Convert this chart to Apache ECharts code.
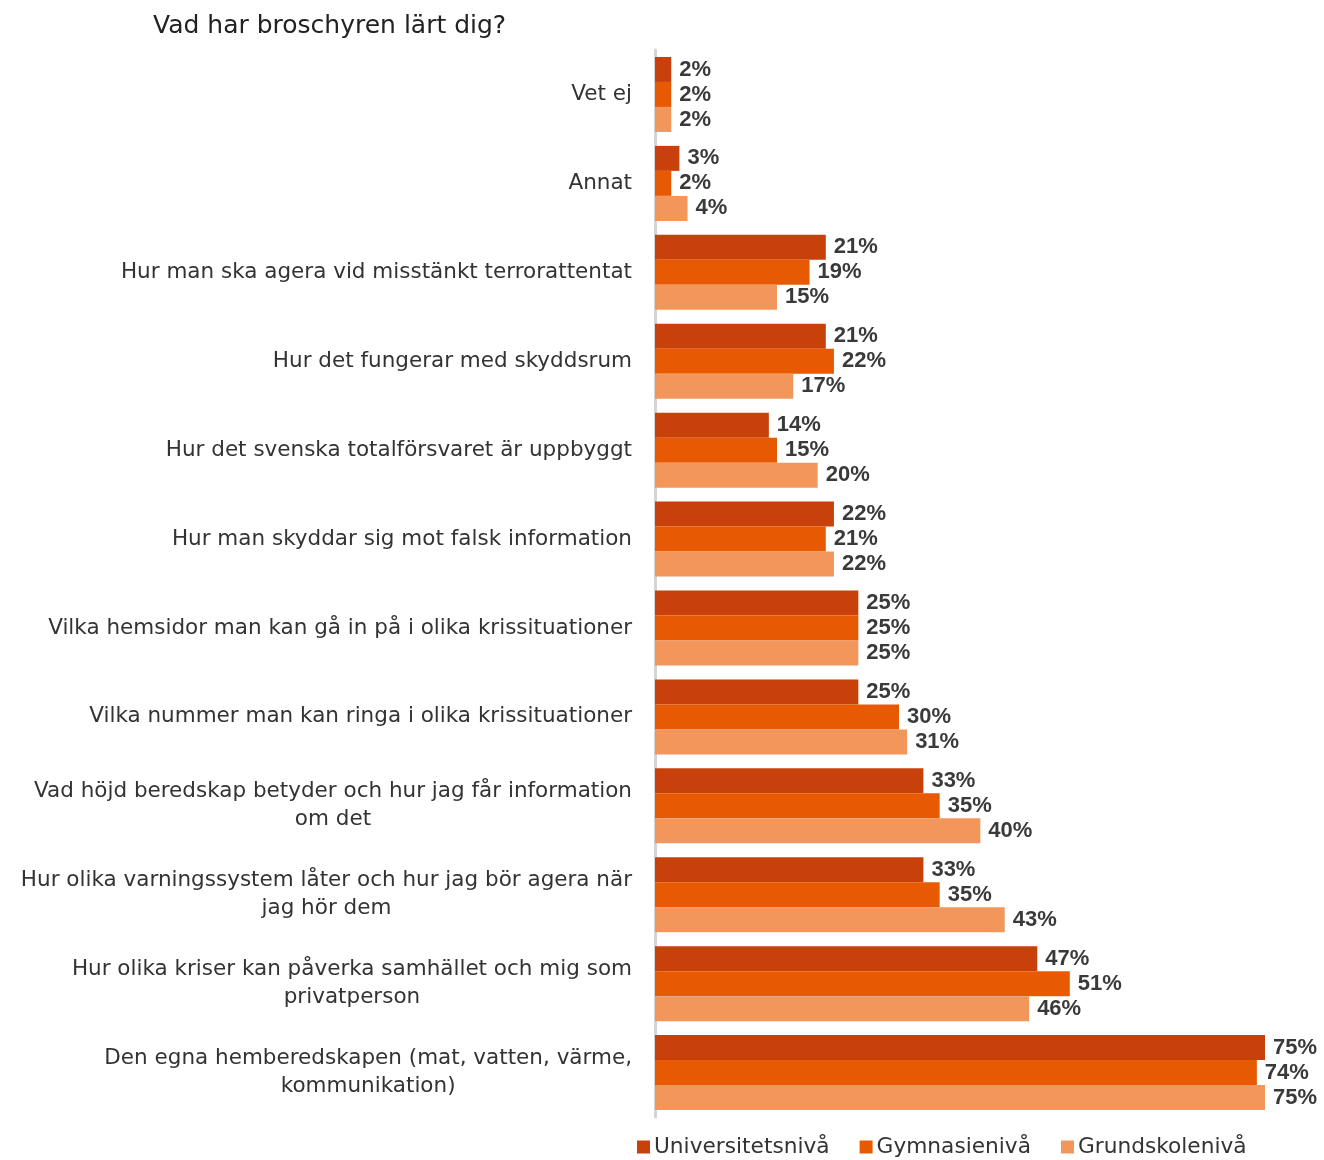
<!DOCTYPE html>
<html><head><meta charset="utf-8">
<script src="https://cdn.jsdelivr.net/npm/echarts@6/dist/echarts.min.js"></script>
<style>html,body{margin:0;padding:0;background:#fff}#c{width:1324px;height:1160px}</style>
</head><body><div id="c"></div>
<script>
const titleText = 'Vad har broschyren lärt dig?';
const categories = [
  'Vet ej',
  'Annat',
  'Hur man ska agera vid misstänkt terrorattentat',
  'Hur det fungerar med skyddsrum',
  'Hur det svenska totalförsvaret är uppbyggt',
  'Hur man skyddar sig mot falsk information',
  'Vilka hemsidor man kan gå in på i olika krissituationer',
  'Vilka nummer man kan ringa i olika krissituationer',
  'Vad höjd beredskap betyder och hur jag får information\nom det',
  'Hur olika varningssystem låter och hur jag bör agera när\njag hör dem',
  'Hur olika kriser kan påverka samhället och mig som\nprivatperson',
  'Den egna hemberedskapen (mat, vatten, värme,\nkommunikation)'
];
const seriesNames = ['Universitetsnivå', 'Gymnasienivå', 'Grundskolenivå'];
const universitet = [2, 3, 21, 21, 14, 22, 25, 25, 33, 33, 47, 75];
const gymnasie    = [2, 2, 19, 22, 15, 21, 25, 30, 35, 35, 51, 74];
const grundskola  = [2, 4, 15, 17, 20, 22, 25, 31, 40, 43, 46, 75];
const colors = ['#C8410B', '#E85A02', '#F2965C'];

const chart = echarts.init(document.getElementById('c'), null, {renderer: 'canvas'});
const values = [universitet, gymnasie, grundskola];
const FONT = 'DejaVu Sans';
chart.setOption({
  animation: false,
  title: {
    text: titleText, left: 148, top: 9,
    textStyle: {fontFamily: FONT, fontWeight: 'normal', fontSize: 25, color: '#222'}
  },
  legend: {
    bottom: -3, left: 632, itemWidth: 13, itemHeight: 13, itemGap: 30,
    icon: 'rect',
    textStyle: {fontFamily: FONT, fontSize: 21.7, color: '#333', padding: [0, 0, 0, -1]},
    data: seriesNames
  },
  grid: {left: 655, right: 59, top: 50, bottom: 43},
  xAxis: {
    type: 'value', min: 0, max: 75, show: false
  },
  yAxis: {
    type: 'category', inverse: true, data: categories,
    axisLine: {show: true, lineStyle: {color: '#d4d4d4', width: 3}},
    axisTick: {show: false},
    axisLabel: {
      margin: 23, fontFamily: FONT, fontSize: 21.5, color: '#333',
      lineHeight: 28, align: 'right',
      formatter: v => v.split('\n').map(l => '{c|' + l + '}').join('\n'),
      rich: {
        c: {align: 'center', fontFamily: FONT, fontSize: 21.5, color: '#333', lineHeight: 28}
      }
    }
  },
  series: seriesNames.map((n, i) => ({
    name: n, type: 'bar', data: values[i],
    barWidth: 25, barGap: '0%',
    itemStyle: {color: colors[i]},
    label: {
      show: true, position: 'right', distance: 8,
      formatter: p => p.value + '%',
      fontFamily: 'Liberation Sans', fontWeight: 'bold', fontSize: 22, color: '#3a3a3a'
    }
  }))
});
</script></body></html>
